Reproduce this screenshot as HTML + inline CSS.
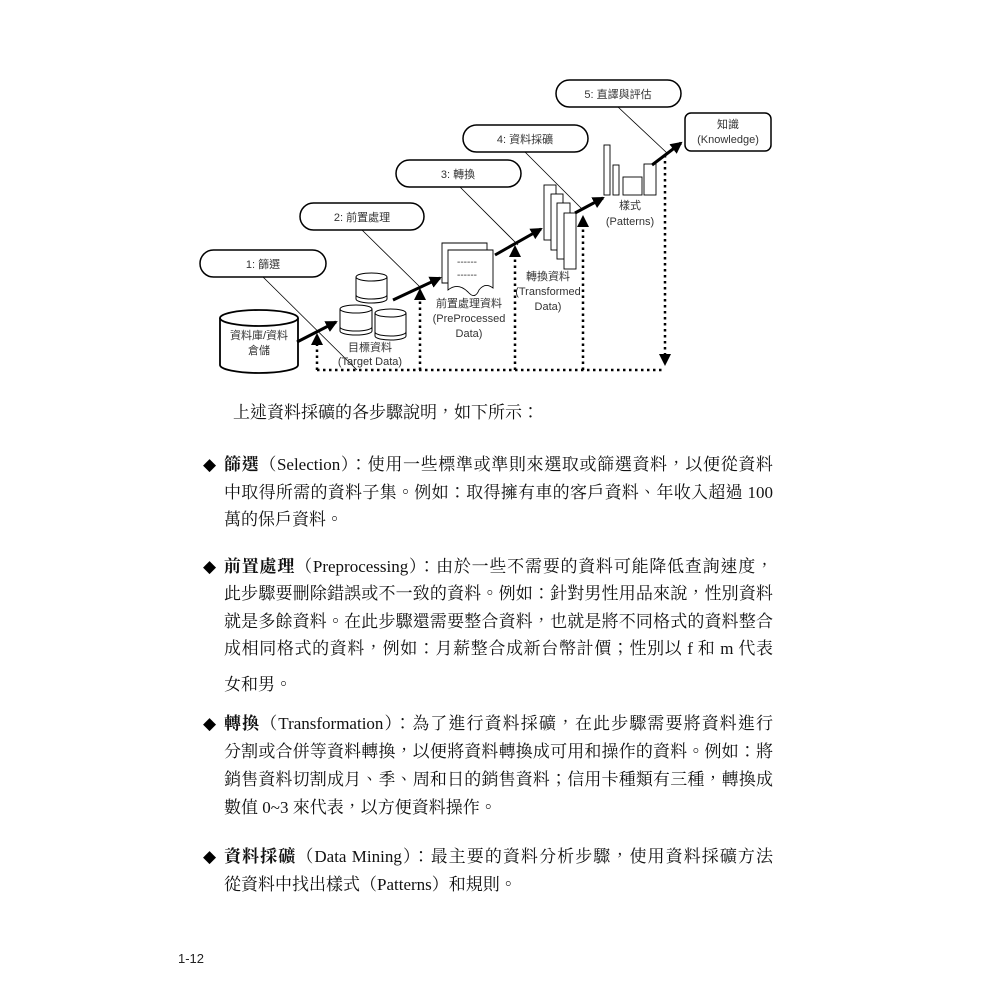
<!DOCTYPE html>
<html><head><meta charset="utf-8"><style>
html,body{margin:0;padding:0;background:#fff;}
body{width:1000px;height:1000px;position:relative;overflow:hidden;}
svg{position:absolute;left:0;top:0;}
.t{position:absolute;font-family:"Liberation Serif","Noto Serif CJK TC","Noto Serif CJK SC",serif;font-size:17px;color:#111;white-space:nowrap;line-height:20px;}
.j{width:549px;text-align:justify;text-align-last:justify;white-space:normal;height:20px;overflow:visible;}
b{font-weight:bold;}
.d{position:absolute;left:203px;font-size:17px;font-family:"DejaVu Sans",sans-serif;line-height:20px;}
</style></head><body>
<svg width="1000" height="400" viewBox="0 0 1000 400" font-family="'Liberation Sans','Noto Sans CJK TC',sans-serif" font-size="11" fill="#333">
<defs><marker id="b" markerWidth="12" markerHeight="12" refX="10" refY="6" orient="auto" markerUnits="userSpaceOnUse"><path d="M0,0L12,6L0,12z" fill="#000"/></marker></defs>
<g stroke="#000" stroke-width="1.5" fill="#fff">
<rect x="200" y="250" width="126" height="27" rx="13.5"/>
<rect x="300" y="203" width="124" height="27" rx="13.5"/>
<rect x="396" y="160" width="125" height="27" rx="13.5"/>
<rect x="463" y="125" width="125" height="27" rx="13.5"/>
<rect x="556" y="80" width="125" height="27" rx="13.5"/>
<rect x="685" y="113" width="86" height="38" rx="6"/>
</g>
<g text-anchor="middle" fill="#333">
<text x="263" y="268">1: 篩選</text><text x="362" y="221">2: 前置處理</text><text x="458" y="178">3: 轉換</text><text x="525" y="143">4: 資料採礦</text><text x="618" y="98">5: 直譯與評估</text>
<text x="728" y="128">知識</text><text x="728" y="143">(Knowledge)</text>
</g>
<g stroke="#000" stroke-width="0.8">
<line x1="263" y1="277" x2="357" y2="370"/><line x1="362" y1="230" x2="420" y2="287"/><line x1="460" y1="187" x2="518" y2="245"/><line x1="525" y1="152" x2="583" y2="210"/><line x1="618" y1="107" x2="667" y2="153"/>
</g>
<g stroke="#000" stroke-width="1.8" fill="#fff">
<path d="M220,318 V365 A39,8 0 0 0 298,365 V318"/><ellipse cx="259" cy="318" rx="39" ry="8"/>
</g>
<text x="259" y="339" text-anchor="middle">資料庫/資料</text><text x="259" y="354" text-anchor="middle">倉儲</text>
<g stroke="#000" stroke-width="1" fill="#fff">
<path d="M356,277 V299 A15.5,4 0 0 0 387,299 V277"/><ellipse cx="371.5" cy="277" rx="15.5" ry="4"/><path d="M356,295 A15.5,4 0 0 0 387,295" fill="none"/>
<path d="M340,309 V331 A16,4 0 0 0 372,331 V309"/><ellipse cx="356" cy="309" rx="16" ry="4"/><path d="M340,327 A16,4 0 0 0 372,327" fill="none"/>
<path d="M375,313 V336 A15.5,4 0 0 0 406,336 V313"/><ellipse cx="390.5" cy="313" rx="15.5" ry="4"/><path d="M375,332 A15.5,4 0 0 0 406,332" fill="none"/>
</g>
<text x="370" y="351" text-anchor="middle">目標資料</text><text x="370" y="365" text-anchor="middle">(Target Data)</text>
<g stroke="#000" stroke-width="0.9" fill="#fff">
<path d="M442,243 H487 V283 H442 Z"/>
<path d="M448,250 H493 V288 Q485,282 479,290 Q475,300 468,292 Q458,282 448,290 Z"/>
</g>
<text x="457" y="265" font-size="10">------</text><text x="457" y="278" font-size="10">------</text>
<text x="469" y="307" text-anchor="middle">前置處理資料</text><text x="469" y="322" text-anchor="middle">(PreProcessed</text><text x="469" y="337" text-anchor="middle">Data)</text>
<g stroke="#000" stroke-width="0.9" fill="#fff">
<rect x="544" y="185" width="12" height="55"/><rect x="551" y="194" width="12" height="56"/><rect x="557" y="203" width="13" height="56"/><rect x="564" y="213" width="12" height="56"/>
</g>
<text x="548" y="280" text-anchor="middle">轉換資料</text><text x="548" y="295" text-anchor="middle">(Transformed</text><text x="548" y="310" text-anchor="middle">Data)</text>
<g stroke="#000" stroke-width="0.9" fill="#fff">
<rect x="604" y="145" width="6" height="50"/><rect x="613" y="165" width="6" height="30"/><rect x="623" y="177" width="19" height="18"/><rect x="644" y="164" width="12" height="31"/>
</g>
<text x="630" y="209" text-anchor="middle">樣式</text><text x="630" y="225" text-anchor="middle">(Patterns)</text>
<g stroke="#000" stroke-width="3" marker-end="url(#b)">
<line x1="297" y1="342" x2="336" y2="322"/><line x1="393" y1="300" x2="440" y2="278"/><line x1="495" y1="255" x2="541" y2="229"/><line x1="575" y1="213" x2="603" y2="198"/><line x1="652" y1="165" x2="681" y2="143"/>
</g>
<g stroke="#000" stroke-width="2.5" stroke-dasharray="2.5,3.5" fill="none">
<path d="M317,370 H665"/>
<line x1="317" y1="370" x2="317" y2="344"/><line x1="420" y1="370" x2="420" y2="298"/><line x1="515" y1="370" x2="515" y2="255"/><line x1="583" y1="370" x2="583" y2="225"/><line x1="665" y1="155" x2="665" y2="356"/>
</g>
<g fill="#000">
<path d="M311,345 L317,333 L323,345Z"/><path d="M414,300 L420,288 L426,300Z"/><path d="M509,257 L515,245 L521,257Z"/><path d="M577,227 L583,215 L589,227Z"/><path d="M659,354 L665,366 L671,354Z"/>
</g>
</svg>

<div class="t" style="left:233px;top:403px;">上述資料採礦的各步驟說明，如下所示：</div>

<div class="d" style="top:455px;">◆</div>
<div class="t j" style="left:224px;top:455px;"><b>篩選</b>（Selection）：使用一些標準或準則來選取或篩選資料，以便從資料</div>
<div class="t j" style="left:224px;top:483px;">中取得所需的資料子集。例如：取得擁有車的客戶資料、年收入超過 100</div>
<div class="t" style="left:224px;top:510px;">萬的保戶資料。</div>

<div class="d" style="top:557px;">◆</div>
<div class="t j" style="left:224px;top:557px;"><b>前置處理</b>（Preprocessing）：由於一些不需要的資料可能降低查詢速度，</div>
<div class="t j" style="left:224px;top:584px;">此步驟要刪除錯誤或不一致的資料。例如：針對男性用品來說，性別資料</div>
<div class="t j" style="left:224px;top:612px;">就是多餘資料。在此步驟還需要整合資料，也就是將不同格式的資料整合</div>
<div class="t j" style="left:224px;top:639px;">成相同格式的資料，例如：月薪整合成新台幣計價；性別以 f 和 m 代表</div>
<div class="t" style="left:224px;top:675px;">女和男。</div>

<div class="d" style="top:714px;">◆</div>
<div class="t j" style="left:224px;top:714px;"><b>轉換</b>（Transformation）：為了進行資料採礦，在此步驟需要將資料進行</div>
<div class="t j" style="left:224px;top:742px;">分割或合併等資料轉換，以便將資料轉換成可用和操作的資料。例如：將</div>
<div class="t j" style="left:224px;top:770px;">銷售資料切割成月、季、周和日的銷售資料；信用卡種類有三種，轉換成</div>
<div class="t" style="left:224px;top:798px;">數值 0~3 來代表，以方便資料操作。</div>

<div class="d" style="top:847px;">◆</div>
<div class="t j" style="left:224px;top:847px;"><b>資料採礦</b>（Data Mining）：最主要的資料分析步驟，使用資料採礦方法</div>
<div class="t" style="left:224px;top:875px;">從資料中找出樣式（Patterns）和規則。</div>

<div style="position:absolute;left:178px;top:951px;font-family:'Liberation Sans',sans-serif;font-size:13px;color:#222;">1-12</div>
</body></html>
